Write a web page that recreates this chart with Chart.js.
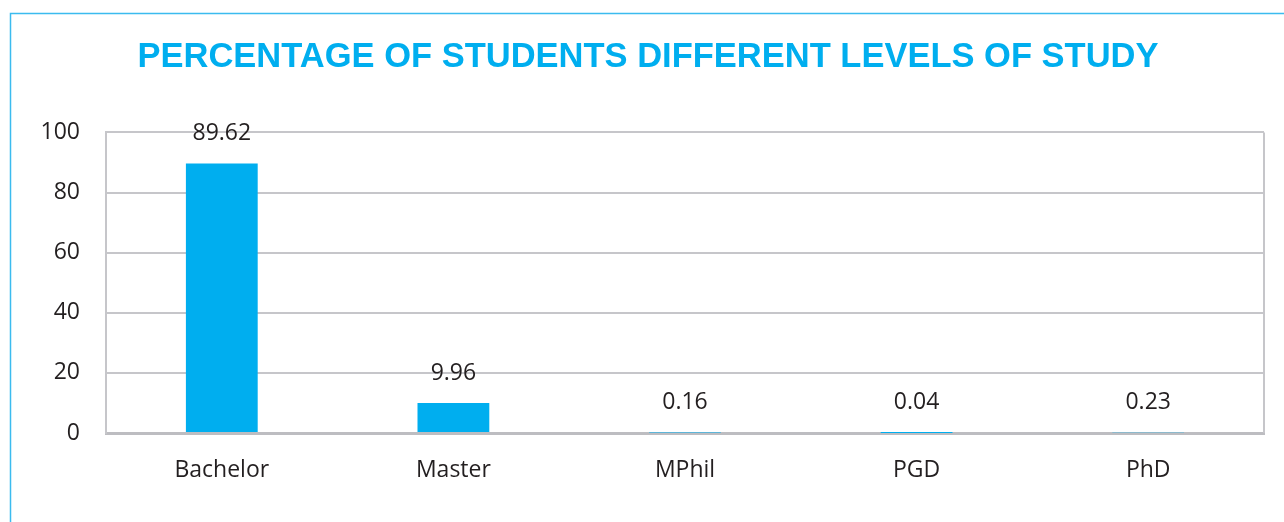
<!DOCTYPE html>
<html>
<head>
<meta charset="utf-8">
<script src="https://cdn.jsdelivr.net/npm/chart.js@4"></script>
<style>
  body { margin: 0; background: #fff; }
  #wrap { width: 1284px; height: 522px; }
</style>
</head>
<body>
<div id="wrap"><canvas id="levels"></canvas></div>
<script>
const levels = ['Bachelor', 'Master', 'MPhil', 'PGD', 'PhD'];
const percentages = [89.62, 9.96, 0.16, 0.04, 0.23];
const yTicks = [0, 20, 40, 60, 80, 100];

const cyan = '#00AEEF';
const gridGray = '#C6C6CA';
const textColor = '#231F20';

// outer frame (top + left edge) and right plot border
const framePlugin = {
  id: 'frame',
  beforeDraw(chart) {
    const ctx = chart.ctx;
    ctx.save();
    ctx.strokeStyle = '#3BBBEF';
    ctx.lineWidth = 1.5;
    ctx.beginPath();
    ctx.moveTo(10.5, 522);
    ctx.lineTo(10.5, 13.5);
    ctx.lineTo(1284, 13.5);
    ctx.stroke();
    ctx.restore();
  },
  afterDraw(chart) {
    const a = chart.chartArea;
    const ctx = chart.ctx;
    ctx.save();
    ctx.strokeStyle = gridGray;
    ctx.lineWidth = 2;
    ctx.beginPath();
    ctx.moveTo(a.right, a.top);
    ctx.lineTo(a.right, a.bottom);
    ctx.stroke();
    ctx.restore();
  }
};

// value labels above the bars
const valueLabels = {
  id: 'valueLabels',
  afterDatasetsDraw(chart) {
    const ctx = chart.ctx;
    const meta = chart.getDatasetMeta(0);
    ctx.save();
    ctx.font = '23px "Open Sans"';
    ctx.fillStyle = textColor;
    ctx.textAlign = 'center';
    ctx.textBaseline = 'middle';
    meta.data.forEach((bar, i) => {
      ctx.fillText(percentages[i].toFixed(2), bar.x, bar.y - 30);
    });
    ctx.restore();
  }
};

new Chart(document.getElementById('levels'), {
  type: 'bar',
  data: {
    labels: levels,
    datasets: [{
      data: percentages,
      backgroundColor: cyan,
      barPercentage: 0.62,
      categoryPercentage: 0.5
    }]
  },
  options: {
    responsive: true,
    maintainAspectRatio: false,
    animation: false,
    layout: { padding: { left: 32, right: 20, top: 0, bottom: 0 } },
    plugins: {
      legend: { display: false },
      tooltip: { enabled: false },
      title: {
        display: true,
        text: 'PERCENTAGE OF STUDENTS DIFFERENT LEVELS OF STUDY',
        color: cyan,
        font: { family: '"Liberation Sans", Arial, sans-serif', size: 34.5, weight: 'bold' },
        padding: { top: 37, bottom: 54 }
      }
    },
    scales: {
      x: {
        grid: { display: false, drawTicks: false },
        border: { display: true, color: '#BDBDC1', width: 3 },
        ticks: { color: textColor, font: { family: '"Open Sans"', size: 23 }, padding: 24 },
        afterFit(scale) { scale.height = 89; }
      },
      y: {
        min: 0,
        max: 100,
        afterBuildTicks(scale) { scale.ticks = yTicks.map(v => ({ value: v })); },
        grid: { color: gridGray, lineWidth: 2, drawTicks: false },
        border: { display: true, color: gridGray, width: 2 },
        ticks: { color: textColor, font: { family: '"Open Sans"', size: 23 }, padding: 26 },
        afterFit(scale) { scale.width = 74; }
      }
    }
  },
  plugins: [framePlugin, valueLabels]
});
</script>
</body>
</html>
